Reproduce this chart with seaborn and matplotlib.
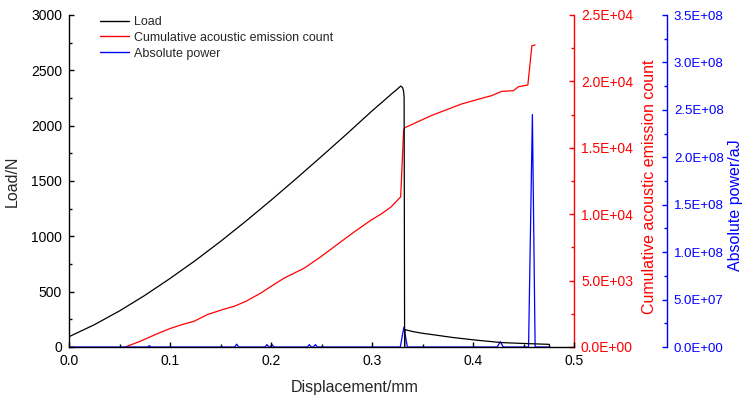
import matplotlib
matplotlib.use("Agg")
import matplotlib.pyplot as plt
from matplotlib.ticker import MultipleLocator, AutoMinorLocator, FuncFormatter
from matplotlib.lines import Line2D
import seaborn as sns

# Load-displacement curve
disp_load = [0.0, 0.025, 0.05, 0.075, 0.1, 0.125, 0.15, 0.175, 0.2, 0.225,
             0.25, 0.275, 0.3, 0.31, 0.32, 0.325, 0.3284, 0.3302, 0.3312,
             0.3318, 0.3323, 0.3324, 0.34, 0.35, 0.362, 0.38, 0.402, 0.428,
             0.45, 0.4755, 0.476]
load = [93, 201, 326, 466, 619, 781, 954, 1136, 1326, 1522,
        1722, 1925, 2133, 2212, 2292, 2330, 2358, 2345, 2315,
        2260, 0, 158, 140, 124, 109, 86, 63, 40,
        32, 24, 0]

# Cumulative acoustic emission count
disp_count = [0.0557, 0.0706, 0.0855, 0.1004, 0.112, 0.1237, 0.1369, 0.1518,
              0.1633, 0.175, 0.1899, 0.2025, 0.213, 0.2329, 0.2495, 0.2627,
              0.2826, 0.2992, 0.3092, 0.319, 0.3284, 0.3313, 0.3323, 0.3588,
              0.3887, 0.405, 0.4185, 0.4284, 0.44, 0.445, 0.4543, 0.4583,
              0.4615]
count = [0, 435, 937, 1400, 1687, 1934, 2436, 2811,
         3058, 3433, 4063, 4685, 5187, 5937, 6807, 7556,
         8680, 9558, 10022, 10554, 11304, 16304, 16506, 17430,
         18300, 18650, 18930, 19250, 19300, 19600, 19730, 22680,
         22750]

# Absolute power
disp_power = [0.0, 0.078, 0.0795, 0.081, 0.164, 0.166, 0.168, 0.194, 0.196,
              0.198, 0.199, 0.201, 0.203, 0.236, 0.238, 0.240, 0.242, 0.244,
              0.246, 0.328, 0.3316, 0.335, 0.424, 0.427, 0.430, 0.455, 0.4588,
              0.4615, 0.476]
power = [0, 0, 1.5e6, 0, 0, 3.0e6, 0, 0, 2.5e6,
         0, 0, 2.5e6, 0, 0, 2.5e6, 0, 0, 2.5e6,
         0, 0, 2.1e7, 0, 0, 5.6e6, 0, 0, 2.45e8,
         0, 0]

load_ticks = [0, 500, 1000, 1500, 2000, 2500, 3000]
disp_ticks = [0.0, 0.1, 0.2, 0.3, 0.4, 0.5]

sns.set_theme(style="ticks")
plt.rcParams["font.family"] = ["Liberation Sans", "DejaVu Sans"]

RED = "#ff0000"
BLUE = "#0000ff"

fig = plt.figure(figsize=(7.47, 3.99), dpi=100)
ax = fig.add_axes([69 / 747, 1 - 347 / 399, 505 / 747, 332 / 399])
ax_r = ax.twinx()
ax_b = ax.twinx()

sns.lineplot(x=disp_count, y=count, ax=ax_r, color=RED, linewidth=0.9,
             sort=False, estimator=None)
sns.lineplot(x=disp_power, y=power, ax=ax_b, color=BLUE, linewidth=0.9,
             sort=False, estimator=None)
sns.lineplot(x=disp_load, y=load, ax=ax, color="black", linewidth=0.9,
             sort=False, estimator=None)

# keep the load curve and its axes on top
ax.set_zorder(ax_b.get_zorder() + 1)
ax.patch.set_visible(False)

# primary axes
ax.set_xlim(0, 0.5)
ax.set_ylim(0, 3000)
ax.set_xticks(disp_ticks)
ax.set_yticks(load_ticks)
ax.xaxis.set_minor_locator(AutoMinorLocator(2))
ax.yaxis.set_minor_locator(AutoMinorLocator(2))
ax.set_xticklabels([f"{v:.1f}" for v in disp_ticks])
ax.set_yticklabels([str(v) for v in load_ticks])
for s in ("top", "right"):
    ax.spines[s].set_visible(False)
for s in ("left", "bottom"):
    ax.spines[s].set_linewidth(1.0)
    ax.spines[s].set_color("black")
ax.tick_params(which="both", direction="in", colors="black", labelsize=10,
               width=1.0, pad=5)
ax.tick_params(which="major", length=3.5)
ax.tick_params(which="minor", length=2)
ax.set_xlabel("Displacement/mm", fontsize=11.5)
ax.set_ylabel("Load/N", fontsize=11.5)
ax.xaxis.set_label_coords(0.566, -0.10)
ax.yaxis.set_label_coords(-0.097, 0.5)

fmt = FuncFormatter(lambda v, p: f"{v:.1E}")

# cumulative count axis
ax_r.set_ylim(0, 25000)
ax_r.yaxis.set_major_locator(MultipleLocator(5000))
ax_r.yaxis.set_minor_locator(MultipleLocator(2500))
ax_r.yaxis.set_major_formatter(fmt)
for s in ("top", "left", "bottom"):
    ax_r.spines[s].set_visible(False)
ax_r.spines["right"].set_color(RED)
ax_r.spines["right"].set_linewidth(1.0)
ax_r.tick_params(which="both", direction="in", colors=RED, labelsize=10,
                 width=1.0, pad=5)
ax_r.tick_params(which="major", length=3.5)
ax_r.tick_params(which="minor", length=2)
ax_r.set_ylabel("Cumulative acoustic emission count", color=RED, fontsize=11.5)
ax_r.yaxis.set_label_coords(1.1347, 0.483)

# absolute power axis
ax_b.set_ylim(0, 3.5e8)
ax_b.yaxis.set_major_locator(MultipleLocator(5e7))
ax_b.yaxis.set_minor_locator(MultipleLocator(2.5e7))
ax_b.yaxis.set_major_formatter(fmt)
ax_b.yaxis.get_offset_text().set_visible(False)
for s in ("top", "left", "bottom"):
    ax_b.spines[s].set_visible(False)
ax_b.spines["right"].set_position(("axes", 1.184))
ax_b.spines["right"].set_color(BLUE)
ax_b.spines["right"].set_linewidth(1.0)
ax_b.tick_params(which="both", direction="in", colors=BLUE, labelsize=9.5,
                 width=1.0, pad=5)
ax_b.tick_params(which="major", length=3.5)
ax_b.tick_params(which="minor", length=2)
ax_b.set_ylabel("Absolute power/aJ", color=BLUE, fontsize=11.5)
ax_b.yaxis.set_label_coords(1.305, 0.428)

for a in (ax, ax_r, ax_b):
    a.grid(False)

handles = [Line2D([], [], color="black", linewidth=1.0),
           Line2D([], [], color=RED, linewidth=1.0),
           Line2D([], [], color=BLUE, linewidth=1.0)]
labels = ["Load", "Cumulative acoustic emission count", "Absolute power"]
fig.legend(handles, labels, loc="upper left",
           bbox_to_anchor=(100 / 747, 1 - 16 / 399),
           bbox_transform=fig.transFigure, frameon=False, fontsize=9,
           borderpad=0, borderaxespad=0, handlelength=2.3,
           handletextpad=0.45, labelspacing=0.3)

fig.savefig("out.png", dpi=100)
